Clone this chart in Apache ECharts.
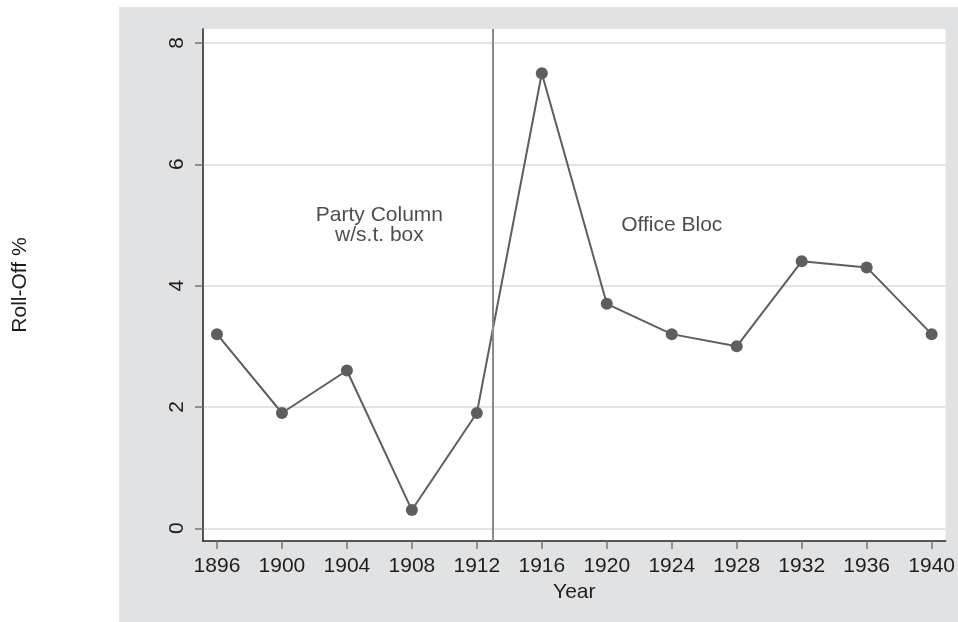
<!DOCTYPE html>
<html>
<head>
<meta charset="utf-8">
<script src="https://cdn.jsdelivr.net/npm/echarts@6/dist/echarts.min.js"></script>
<style>
  html, body { margin: 0; padding: 0; background: #fff; }
  #chart { width: 958px; height: 622px; }
</style>
</head>
<body>
<div id="chart"></div>
<script>
// roll-off by election year
const years = [1896, 1900, 1904, 1908, 1912, 1916, 1920, 1924, 1928, 1932, 1936, 1940];
const rollOff = [3.2, 1.9, 2.6, 0.3, 1.9, 7.5, 3.7, 3.2, 3.0, 4.4, 4.3, 3.2];
const yTicks = [0, 2, 4, 6, 8];
const ballotChangeYear = 1913;
const notes = [
  { text: 'Party Column\nw/s.t. box', year: 1906, value: 5.0 },
  { text: 'Office Bloc', year: 1924, value: 5.0 }
];

const FONT = '"Liberation Sans", Arial, sans-serif';
const TXT = '#1e1e1e';

const chart = echarts.init(document.getElementById('chart'));

const option = {
  backgroundColor: '#fff',
  animation: false,
  graphic: [
    {
      type: 'rect',
      z: -10,
      silent: true,
      shape: { x: 119, y: 7, width: 839, height: 615 },
      style: { fill: '#e1e2e4' }
    }
  ],
  grid: {
    left: 203,
    right: 12,
    top: 29,
    bottom: 81,
    show: true,
    backgroundColor: '#fff',
    borderWidth: 0
  },
  xAxis: {
    type: 'value',
    min: 1895.14,
    max: 1940.86,
    name: 'Year',
    nameLocation: 'middle',
    nameGap: 40,
    nameTextStyle: { color: TXT, fontSize: 21, fontFamily: FONT },
    axisLine: { show: true, onZero: false, lineStyle: { color: '#222', width: 1.5 } },
    axisTick: { show: true, length: 8, customValues: years, lineStyle: { color: '#777', width: 1.5 } },
    axisLabel: {
      customValues: years, color: TXT, fontSize: 21, fontFamily: FONT, margin: 15,
      formatter: v => String(v)
    },
    splitLine: { show: false }
  },
  yAxis: {
    type: 'value',
    min: -0.21,
    max: 8.23,
    name: 'Roll-Off %',
    nameLocation: 'middle',
    nameGap: 172,
    nameTextStyle: { color: TXT, fontSize: 21, fontFamily: FONT },
    axisLine: { show: true, onZero: false, lineStyle: { color: '#222', width: 1.5 } },
    axisTick: { show: true, length: 8, customValues: yTicks, lineStyle: { color: '#777', width: 1.5 } },
    axisLabel: { customValues: yTicks, rotate: 90, color: TXT, fontSize: 21, fontFamily: FONT, margin: 15 },
    splitLine: { show: true, lineStyle: { color: '#e3e3e3', width: 2 } }
  },
  series: [
    {
      name: 'Roll-Off',
      type: 'line',
      data: years.map((y, i) => [y, rollOff[i]]),
      symbol: 'circle',
      symbolSize: 12,
      lineStyle: { color: '#5e5e5e', width: 2 },
      itemStyle: { color: '#5e5e5e' },
      z: 3,
      markLine: {
        silent: true,
        symbol: 'none',
        label: { show: false },
        lineStyle: { color: '#8a8a8a', width: 2, type: 'solid' },
        data: [{ xAxis: ballotChangeYear }]
      }
    },
    {
      name: 'notes',
      type: 'scatter',
      data: notes.map(n => [n.year, n.value]),
      symbolSize: 0,
      silent: true,
      label: {
        show: true,
        position: 'inside',
        formatter: p => notes[p.dataIndex].text,
        color: TXT,
        fontSize: 21,
        lineHeight: 20,
        fontFamily: FONT,
        align: 'center'
      }
    }
  ]
};

chart.setOption(option);
</script>
</body>
</html>
